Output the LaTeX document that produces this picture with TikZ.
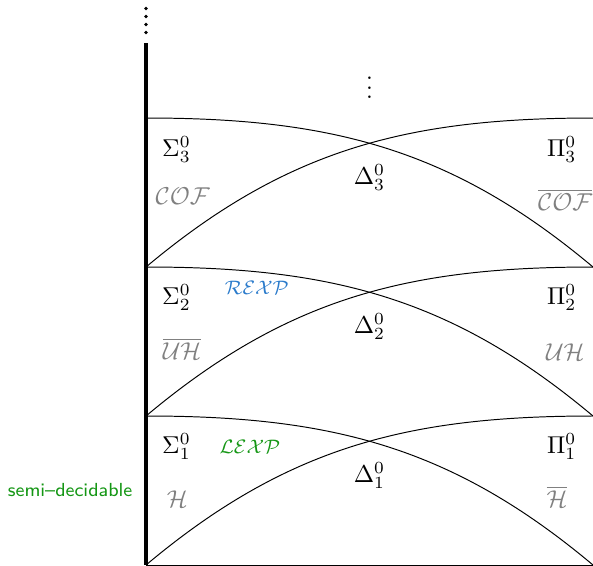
\documentclass[tikz,border=0pt]{standalone}
\usepackage{amsmath}
\usepackage{xcolor}
\usetikzlibrary{positioning,calc}
\definecolor{expblue}{RGB}{43,123,203}
\definecolor{semigreen}{RGB}{20,150,20}

\begin{document}
\begin{tikzpicture}[cls/.style={text=gray}]
        \useasboundingbox (-2.107,0) rectangle (6.45,8.153);

        % corners of the levels
        \foreach \i in {0,1,2,3} {
            \coordinate (l\i) at (0,\i*2.15);
            \coordinate (r\i) at (6.45,\i*2.15);
        }
        \coordinate (axtop) at (0,7.53);

        % axis
        \draw[line width=1.4pt] (l0) -- (axtop);
        \foreach \d in {0,1,2,3} {
            \fill (0,7.684+\d*0.1154) circle (0.75pt);
        }
        \draw (l0) -- (r0);

        % levels
        \foreach \i/\j in {0/1,1/2,2/3} {
            \draw (l\j) to[out=0,in=140] (r\i);
            \draw (l\i) to[out=40,in=180] (r\j);
        }
        \node (more) at (3.225,6.99) {$\vdots$};

        % level 3
        \node (sig3) at (0.44,6.0) {$\Sigma^0_3$};
        \node (pi3) at (6.0,6.0) {$\Pi^0_3$};
        \node (del3) at (3.225,5.59) {$\Delta^0_3$};
        \node[cls] (cof) at (0.53,5.32) {$\mathcal{COF}$};
        \node[cls] (ncof) at (6.05,5.27) {$\overline{\mathcal{COF}}$};

        % level 2
        \node (sig2) at (0.44,3.86) {$\Sigma^0_2$};
        \node (pi2) at (6.0,3.86) {$\Pi^0_2$};
        \node (del2) at (3.225,3.44) {$\Delta^0_2$};
        \node[cls] (nuh) at (0.52,3.12) {$\overline{\mathcal{UH}}$};
        \node[cls] (uh) at (6.05,3.07) {$\mathcal{UH}$};
        \node[text=expblue,font=\footnotesize] (rexp) at (1.60,4.0) {$\mathcal{REXP}$};

        % level 1
        \node (sig1) at (0.44,1.71) {$\Sigma^0_1$};
        \node (pi1) at (6.0,1.71) {$\Pi^0_1$};
        \node (del1) at (3.225,1.29) {$\Delta^0_1$};
        \node[cls] (h) at (0.45,0.95) {$\mathcal{H}$};
        \node[cls] (nh) at (5.93,0.98) {$\overline{\mathcal{H}}$};
        \node[text=semigreen,font=\footnotesize] (lexp) at (1.50,1.70) {$\mathcal{LEXP}$};

        \node[text=semigreen,font=\footnotesize\sffamily,anchor=east,inner sep=0pt,scale=0.97] (semi) at (-0.19,1.08) {semi--decidable};
\end{tikzpicture}
\end{document}
